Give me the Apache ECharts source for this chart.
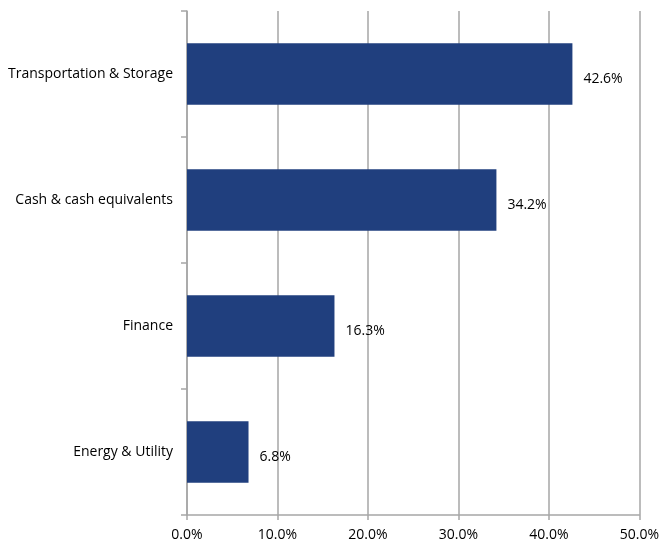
<!DOCTYPE html>
<html><head><meta charset="utf-8">
<script src="https://cdn.jsdelivr.net/npm/echarts@6/dist/echarts.min.js"></script>
<style>html,body{margin:0;padding:0;background:#fff}#c{width:662px;height:547px}</style>
</head><body><div id="c"></div>
<script>
const categories = ['Energy & Utility', 'Finance', 'Cash & cash equivalents', 'Transportation & Storage'];
const values = [6.8, 16.3, 34.2, 42.6];
const xTicks = [0, 10, 20, 30, 40, 50];

const chart = echarts.init(document.getElementById('c'));
const font = 'Open Sans, Noto Sans, sans-serif';
chart.setOption({
  animation: false,
  grid: { left: 187, right: 19, top: 11, bottom: 32, containLabel: false },
  xAxis: {
    type: 'value', min: xTicks[0], max: xTicks[xTicks.length - 1], interval: 10,
    axisLine: { show: true, lineStyle: { color: '#a6a6a6', width: 1.5 } },
    axisTick: { show: true, length: 5, lineStyle: { color: '#a6a6a6', width: 1.5 } },
    splitLine: { show: true, lineStyle: { color: '#a6a6a6', width: 1.5 } },
    axisLabel: { color: '#000', fontSize: 14, fontFamily: font, margin: 13,
      formatter: v => v.toFixed(1) + '%' }
  },
  yAxis: {
    type: 'category', data: categories,
    axisLine: { show: true, lineStyle: { color: '#a6a6a6', width: 1.5 } },
    axisTick: { show: true, length: 6, lineStyle: { color: '#a6a6a6', width: 1.5 } },
    axisLabel: { color: '#000', fontSize: 14, fontFamily: font, margin: 14 }
  },
  series: [{
    type: 'bar', data: values, barCategoryGap: '51%',
    itemStyle: { color: '#203f7e' },
    label: { show: true, position: 'right', distance: 11, offset: [0, 5], color: '#000',
      fontSize: 14, fontFamily: font, formatter: p => p.value.toFixed(1) + '%' }
  }]
});
</script></body></html>
